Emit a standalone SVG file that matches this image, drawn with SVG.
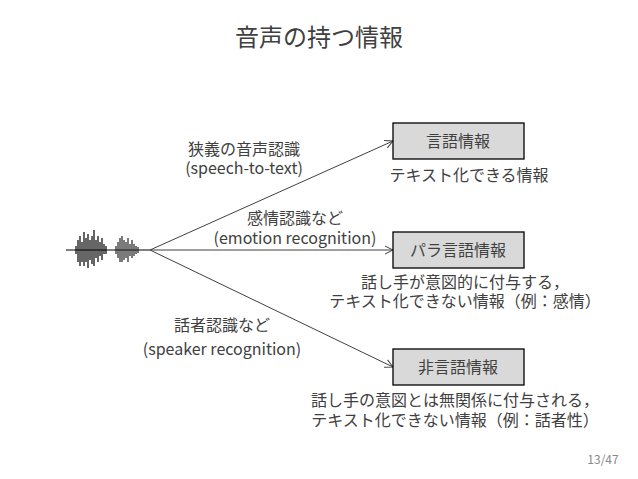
<svg xmlns="http://www.w3.org/2000/svg" width="638" height="479" viewBox="0 0 638 479">
<style>
text{font-family:"Noto Sans CJK JP","Noto Sans",sans-serif;fill:#404040;font-size:16px;text-anchor:middle}
.box{fill:#d9d9d9;stroke:#000;stroke-width:1.3}
.c line{stroke:#404040;stroke-width:1}
</style>
<defs><marker id="a" markerWidth="10" markerHeight="10" refX="9" refY="5" orient="auto" markerUnits="userSpaceOnUse"><path d="M1,1 L9,5 L1,9" fill="none" stroke="#404040"/></marker></defs>
<rect width="638" height="479" fill="#fff"/>
<text x="319" y="46" style="font-size:24px">音声の持つ情報</text>
<g id="wave" stroke="#000" stroke-width="1.2">
<line x1="66" y1="250" x2="150" y2="250" stroke="#000"/>
<path d="M76,246V254M78,240V262M80,236V266M82,242V262M84,232V266M86,238V262M88,234V268M90,240V260M92,236V264M94,230V266M96,240V258M98,236V262M100,242V256M102,238V260M104,244V254M106,246V254"/>
<path d="M116,246V254M118,242V258M120,238V262M122,236V262M124,240V260M126,242V258M128,238V262M130,244V256M132,240V258M134,244V256M136,246V254M138,247V253" stroke="#222"/>
</g>
<g class="c">
<line x1="150" y1="250" x2="393" y2="141" marker-end="url(#a)"/>
<line x1="150" y1="250" x2="393" y2="250" marker-end="url(#a)"/>
<line x1="150" y1="250" x2="393" y2="367" marker-end="url(#a)"/>
</g>
<g id="n1"><rect class="box" x="393" y="123" width="131" height="36"/><text x="458" y="147">言語情報</text><text x="469" y="181">テキスト化できる情報</text></g>
<g id="n2"><rect class="box" x="393" y="232" width="131" height="36"/><text x="458" y="256">パラ言語情報</text><text x="465" y="288">話し手が意図的に付与する，</text><text x="465" y="307">テキスト化できない情報（例：感情）</text></g>
<g id="n3"><rect class="box" x="393" y="349" width="131" height="36"/><text x="458" y="373">非言語情報</text><text x="455" y="406">話し手の意図とは無関係に付与される，</text><text x="455" y="426">テキスト化できない情報（例：話者性）</text></g>
<g id="l1"><text x="244" y="155">狭義の音声認識</text><text x="244" y="174">(speech-to-text)</text></g>
<g id="l2"><text x="295" y="224">感情認識など</text><text x="295" y="244">(emotion recognition)</text></g>
<g id="l3"><text x="222" y="331">話者認識など</text><text x="222" y="355">(speaker recognition)</text></g>
<text x="603" y="464" style="font-size:12px;fill:#888">13/47</text>
</svg>
